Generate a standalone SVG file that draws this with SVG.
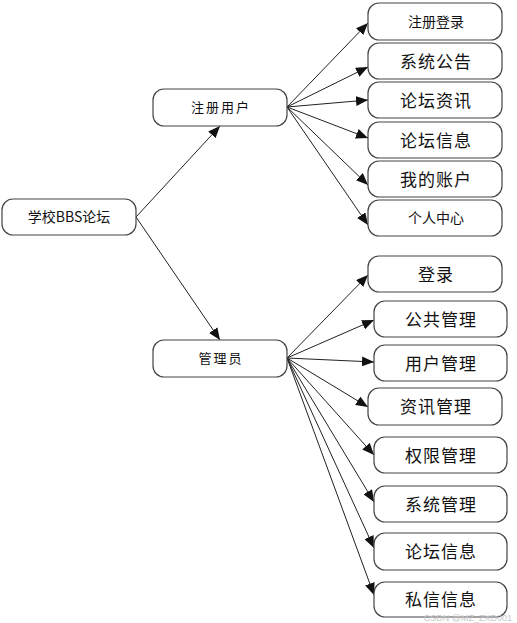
<svg xmlns="http://www.w3.org/2000/svg" width="517" height="623" viewBox="0 0 517 623">
<style>
.box{fill:#fff;stroke:#444;stroke-width:1.2}
.t{font-family:"Noto Sans CJK SC","Liberation Sans",sans-serif;fill:#111;text-anchor:middle;dominant-baseline:central}
.s14{font-size:14px}
.s13{font-size:13px;letter-spacing:2px}
.s17{font-size:17px;letter-spacing:1px}
.c line{stroke:#222;stroke-width:1;marker-end:url(#ah)}
</style>
<defs>
<marker id="ah" markerUnits="userSpaceOnUse" markerWidth="13" markerHeight="10" refX="12" refY="5" orient="auto">
<path d="M0,0 L12,5 L0,10 Z" fill="#111"/>
</marker>
</defs>
<rect width="517" height="623" fill="#fff"/>
<g id="connectors" class="c">
<line x1="136" y1="217" x2="220" y2="126"/>
<line x1="136" y1="217" x2="220" y2="340"/>
<line x1="287" y1="107" x2="368" y2="23"/>
<line x1="287" y1="107" x2="368" y2="67"/>
<line x1="287" y1="107" x2="368" y2="100"/>
<line x1="287" y1="107" x2="368" y2="138"/>
<line x1="287" y1="107" x2="368" y2="185"/>
<line x1="287" y1="107" x2="368" y2="225"/>
<line x1="287" y1="358" x2="368" y2="275"/>
<line x1="287" y1="358" x2="374" y2="320"/>
<line x1="287" y1="358" x2="374" y2="362"/>
<line x1="287" y1="358" x2="368" y2="407"/>
<line x1="287" y1="358" x2="374" y2="455"/>
<line x1="287" y1="358" x2="374" y2="502"/>
<line x1="287" y1="358" x2="374" y2="548"/>
<line x1="287" y1="358" x2="374" y2="595"/>
</g>
<g id="root"><rect class="box" x="2" y="199" width="134" height="36" rx="11"/><text class="t s14" x="69" y="216">学校BBS论坛</text></g>
<g id="user"><rect class="box" x="153" y="89" width="134" height="37" rx="11"/><text class="t s13" x="221" y="106.5">注册用户</text></g>
<g id="admin"><rect class="box" x="153" y="340" width="134" height="37" rx="11"/><text class="t s13" x="221" y="357.5">管理员</text></g>
<g id="u1"><rect class="box" x="368" y="3" width="134" height="37" rx="11"/><text class="t s14" x="436" y="20.5">注册登录</text></g>
<g id="u2"><rect class="box" x="368" y="43" width="134" height="36" rx="11"/><text class="t s17" x="436" y="60">系统公告</text></g>
<g id="u3"><rect class="box" x="368" y="82" width="134" height="36" rx="11"/><text class="t s17" x="436" y="99">论坛资讯</text></g>
<g id="u4"><rect class="box" x="368" y="122" width="134" height="36" rx="11"/><text class="t s17" x="436" y="139">论坛信息</text></g>
<g id="u5"><rect class="box" x="368" y="161" width="134" height="36" rx="11"/><text class="t s17" x="436" y="178">我的账户</text></g>
<g id="u6"><rect class="box" x="368" y="200" width="134" height="36" rx="11"/><text class="t s14" x="436" y="217">个人中心</text></g>
<g id="a1"><rect class="box" x="368" y="256" width="134" height="36" rx="11"/><text class="t s17" x="436" y="273">登录</text></g>
<g id="a2"><rect class="box" x="374" y="301" width="133" height="36" rx="11"/><text class="t s17" x="441" y="318">公共管理</text></g>
<g id="a3"><rect class="box" x="374" y="345" width="133" height="36" rx="11"/><text class="t s17" x="441" y="362">用户管理</text></g>
<g id="a4"><rect class="box" x="368" y="388" width="134" height="37" rx="11"/><text class="t s17" x="436" y="405.5">资讯管理</text></g>
<g id="a5"><rect class="box" x="374" y="437" width="133" height="36" rx="11"/><text class="t s17" x="441" y="454">权限管理</text></g>
<g id="a6"><rect class="box" x="374" y="486" width="133" height="36" rx="11"/><text class="t s17" x="441" y="503">系统管理</text></g>
<g id="a7"><rect class="box" x="374" y="533" width="133" height="37" rx="11"/><text class="t s17" x="441" y="550.5">论坛信息</text></g>
<g id="a8"><rect class="box" x="374" y="582" width="133" height="35" rx="11"/><text class="t s17" x="441" y="598.5">私信信息</text></g>
<text x="512" y="621" font-family="Liberation Sans,sans-serif" font-size="9" fill="#c8c8c8" text-anchor="end">CSDN @MZ_ZXD001</text>
</svg>
